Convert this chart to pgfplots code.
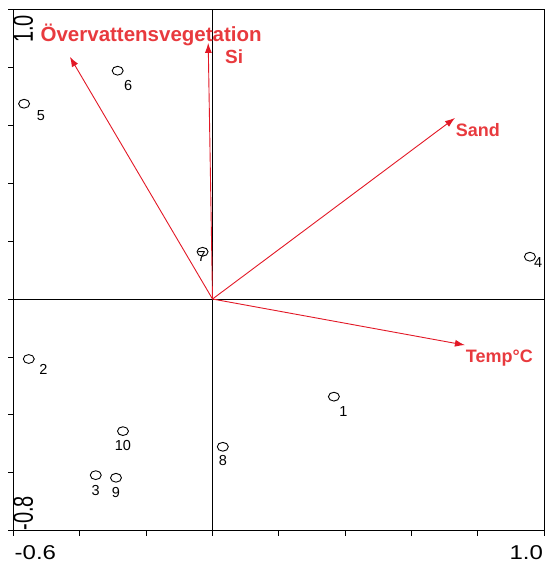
\documentclass[border=0pt]{standalone}
\usepackage{pgfplots}
\pgfplotsset{compat=1.18}
\usepackage{pgfplotstable}
\usepackage{fontspec}
\setmainfont{Liberation Sans}
\usetikzlibrary{arrows.meta}

\definecolor{arrowred}{RGB}{226,24,38}
\definecolor{labred}{RGB}{232,58,62}

% site scores: x y label, label offset dx dy (pt)
\pgfplotstableread{
x y lbl dx dy
0.366 -0.337 1 9.5 -15
-0.554 -0.207 2 14.6 -10
-0.352 -0.608 3 0 -15
0.957 0.146 4 8.3 -6
-0.568 0.674 5 16.7 -12
-0.286 0.788 6 10.6 -14.3
-0.030 0.163 7 -1 -5
0.031 -0.510 8 0 -13.3
-0.291 -0.617 9 0 -14.3
-0.270 -0.456 10 0 -14.7
}\sites

\begin{document}
\begin{tikzpicture}
\begin{axis}[
  scale only axis,
  width=530.7pt, height=521.5pt,
  xmin=-0.6, xmax=1.0, ymin=-0.8, ymax=1.0,
  xtick={-0.6,-0.4,...,1.01}, ytick={-0.8,-0.6,...,1.01},
  xticklabels={}, yticklabels={},
  ticklabel style={inner sep=0pt},
  xtick pos=bottom, ytick pos=left,
  tick align=outside, major tick length=5pt,
  tick style={black, line width=0.9pt},
  axis line style={black, line width=1.3pt},
  clip=false,
]
\coordinate (bl) at (rel axis cs:0,0);
\coordinate (tr) at (rel axis cs:1,1);

% zero lines
\addplot[black, line width=0.9pt] coordinates {(0,-0.8) (0,1.0)};
\addplot[black, line width=0.9pt] coordinates {(-0.6,0) (1.0,0)};

% environmental arrows
\addplot[arrowred, line width=0.9pt, -{Latex[length=10pt,width=7pt]}] coordinates {(0,0) (-0.430,0.836)};
\addplot[arrowred, line width=0.9pt, -{Latex[length=10pt,width=7pt]}] coordinates {(0,0) (-0.013,0.884)};
\addplot[arrowred, line width=0.9pt, -{Latex[length=10pt,width=7pt]}] coordinates {(0,0) (0.731,0.625)};
\addplot[arrowred, line width=0.9pt, -{Latex[length=10pt,width=7pt]}] coordinates {(0,0) (0.761,-0.159)};

\node[labred, font=\fontsize{20.5}{20.5}\selectfont\bfseries] at (axis cs:-0.185,0.911) {Övervattensvegetation};
\node[labred, font=\fontsize{19}{19}\selectfont\bfseries] at (axis cs:0.065,0.837) {Si};
\node[labred, font=\fontsize{18}{18}\selectfont\bfseries] at (axis cs:0.800,0.583) {Sand};
\node[labred, font=\fontsize{18}{18}\selectfont\bfseries] at (axis cs:0.865,-0.204) {Temp°C};

% sites
\addplot[only marks, mark=o, mark size=5.5pt,
  mark options={yscale=0.8, line width=0.9pt, black},
  point meta=explicit symbolic,
  visualization depends on={\thisrow{dx}\as\dx},
  visualization depends on={\thisrow{dy}\as\dy},
  nodes near coords,
  nodes near coords style={anchor=center, inner sep=0pt, xshift=\dx, yshift=\dy,
    font=\fontsize{14.5}{14.5}\selectfont, black},
] table[x=x, y=y, meta=lbl] {\sites};

\end{axis}
% end tick labels
\node[anchor=base west, inner sep=0pt, xscale=1.2, font=\fontsize{20}{20}\selectfont]
  at ([xshift=1pt, yshift=-28.5pt]bl) {-0.6};
\node[anchor=base east, inner sep=0pt, xscale=1.2, font=\fontsize{20}{20}\selectfont]
  at ([xshift=-1pt, yshift=-28.5pt]bl -| tr) {1.0};
\node[anchor=south east, inner sep=0pt, xscale=1.4, rotate=90, font=\fontsize{20}{20}\selectfont]
  at ([xshift=20pt, yshift=-5.7pt]bl |- tr) {1.0};
\node[anchor=south west, inner sep=0pt, xscale=1.4, rotate=90, font=\fontsize{20}{20}\selectfont]
  at ([xshift=20pt]bl) {-0.8};
\pgfresetboundingbox
\path (bl) ++(-13.5pt,-34.2pt) (tr) ++(1.8pt,9.3pt);
\end{tikzpicture}
\end{document}
